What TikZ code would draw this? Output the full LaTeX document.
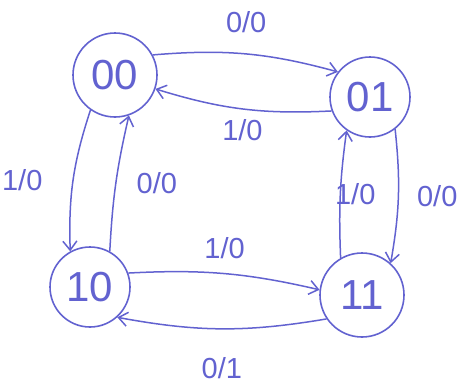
\documentclass[tikz,border=0pt]{standalone}
\usepackage{fontspec}
\setmainfont{Liberation Sans}
\usetikzlibrary{positioning, arrows.meta}

\definecolor{pen}{RGB}{98,98,208}

\begin{document}
\begin{tikzpicture}[
    x=1pt, y=-1pt,
    % --- pen styles ---
    state/.style={circle, draw=pen, line width=1.6pt, minimum size=84pt, text=pen, font=\fontsize{42}{44}\selectfont},
    edge/.style={draw=pen, line width=1.5pt, ->},
    lbl/.style={text=pen, font=\fontsize{29}{32}\selectfont, inner sep=2pt},
    >={Straight Barb[length=9pt, width=14pt, line width=1.5pt]}
]
\useasboundingbox (0,0) rectangle (462,389);

% --- STATES ---
\node (s00) [state] at (115,75) {00};
\node (s01) [state, minimum size=80pt] at (370,97) {01};
\node (s10) [state, minimum size=80pt] at (90,287) {10};
\node (s11) [state] at (362,295) {11};

% --- TOP PAIR ---
\draw [edge] (s00.28) to[bend left=10] node[lbl, midway, above=18pt] {0/0} (s01.142);
\draw [edge] (s01.200) to[bend left=10] node[lbl, midway, below=8pt] {1/0} (s00.341);

% --- LEFT PAIR ---
\draw [edge] (s00.235) to[bend right=10] node[lbl, midway, left=28pt] {1/0} (s10.119);
\draw [edge] (s10.61) to[bend left=5] node[lbl, midway, right=18pt] {0/0} (s00.289);

% --- BOTTOM PAIR ---
\draw [edge] (s10.20) to[bend left=8] node[lbl, midway, above=12pt] {1/0} (s11.173);
\draw [edge] (s11.214) to[bend left=10] node[lbl, midway, below=26pt] {0/1} (s10.312);

% --- RIGHT PAIR ---
\draw [edge] (s01.308) to[bend left=8] node[lbl, midway, right=16pt] {0/0} (s11.48);
\draw [edge] (s11.120) to[bend left=5] node[lbl, midway, right=-8pt] {1/0} (s01.235);

\end{tikzpicture}
\end{document}
